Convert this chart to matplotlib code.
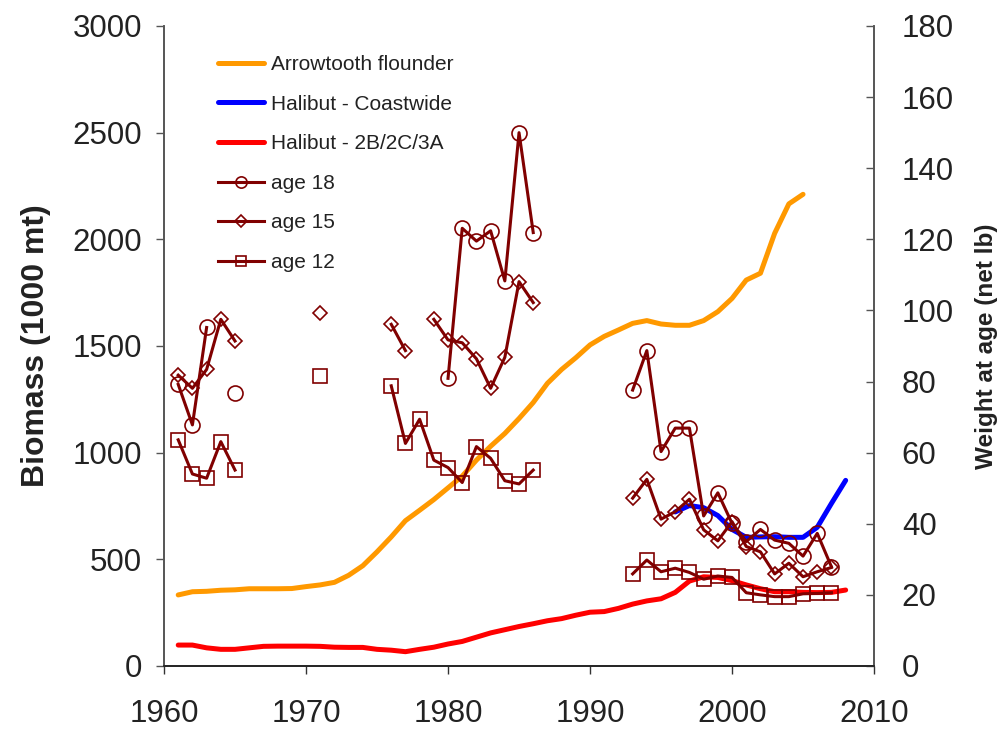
import numpy as np
import matplotlib
matplotlib.use("Agg")
import matplotlib.pyplot as plt

plt.rcParams["font.family"] = ["Liberation Sans", "DejaVu Sans"]

# biomass series (1000 mt), left axis
arrow_years = list(range(1961, 2006))
arrowtooth = [333, 348, 350, 355, 357, 362, 362, 362, 363, 372,
              380, 392, 425, 470, 535, 605, 681, 730, 780, 835,
              890, 965, 1030, 1090, 1160, 1235, 1325, 1390, 1445, 1505,
              1545, 1575, 1606, 1619, 1603, 1597, 1597, 1619, 1661, 1723,
              1809, 1841, 2028, 2166, 2211]

coast_years = list(range(1996, 2009))
coastwide = [722, 752, 742, 705, 640, 603, 605, 606, 603, 603, 650, 762, 870]

red_years = list(range(1961, 2009))
area_2b3a = [98, 98, 85, 78, 78, 85, 92, 93, 93, 93,
             92, 88, 87, 87, 78, 74, 67, 78, 88, 103,
             115, 135, 155, 170, 185, 198, 212, 222, 238, 252,
             255, 270, 290, 305, 315, 345, 398, 418, 415, 400,
             380, 362, 348, 348, 345, 344, 345, 356]

# weight at age (net lb), right axis; None = no data
age_years = list(range(1961, 2008))
age18 = [79.2, 67.8, 95.2, None, 76.9, None, None, None, None, None,
         None, None, None, None, None, None, None, None, None, 80.9,
         123.1, 119.5, 122.4, 108.3, 150.0, 121.9, None, None, None, None,
         None, None, 77.6, 88.7, 60.3, 66.9, 66.9, 42.2, 48.7, 40.1,
         35.0, 38.4, 35.4, 34.5, 30.9, 37.3, 27.9]
age15 = [81.8, 78.1, 83.4, 97.5, 91.4, None, None, None, None, None,
         99.2, None, None, None, None, 96.1, 88.7, None, 97.5, 91.7,
         90.9, 86.4, 78.1, 86.8, 108.1, 102.2, None, None, None, None,
         None, None, 47.2, 52.5, 41.3, 43.4, 46.9, 38.3, 35.2, 40.6,
         33.6, 32.1, 25.9, 28.9, 25.1, 26.5, 27.7]
age12 = [63.6, 54.0, 52.8, 63.1, 55.1, None, None, None, None, None,
         81.6, None, None, None, None, 78.8, 62.6, 69.4, 57.9, 55.8,
         51.6, 61.7, 58.4, 52.1, 51.2, 55.1, None, None, None, None,
         None, None, 25.9, 29.8, 26.5, 27.5, 26.3, 24.4, 25.3, 24.9,
         20.6, 20.0, 19.5, 19.5, 20.3, 20.4, 20.6]

TXT = "#222222"
DARKRED = "#800000"

fig = plt.figure(figsize=(10.05, 7.32), dpi=100)
ax = fig.add_axes([0.1632, 0.0902, 0.8697 - 0.1632, 0.9645 - 0.0902])
ax2 = ax.twinx()

l1, = ax.plot(arrow_years, arrowtooth, color="#FF9900", lw=3.6,
              solid_capstyle="round", label="Arrowtooth flounder")
l2, = ax.plot(coast_years, coastwide, color="#0000FF", lw=3.6,
              solid_capstyle="round", label="Halibut - Coastwide")
l3, = ax.plot(red_years, area_2b3a, color="#FF0000", lw=3.6,
              solid_capstyle="round", label="Halibut - 2B/2C/3A")

def arr(v):
    return np.array([np.nan if x is None else x for x in v], dtype=float)

common = dict(color=DARKRED, lw=2.2, mfc="none", mec=DARKRED, mew=1.2)
l4, = ax2.plot(age_years, arr(age18), marker="o", ms=10.8, label="age 18", **common)
l5, = ax2.plot(age_years, arr(age15), marker="D", ms=7.6, label="age 15", **common)
l6, = ax2.plot(age_years, arr(age12), marker="s", ms=10.5, label="age 12", **common)

ax.set_xlim(1960, 2010)
ax.set_ylim(0, 3000)
ax2.set_ylim(0, 180)
ax.set_xticks(range(1960, 2011, 10))
ax.set_yticks(range(0, 3001, 500))
ax2.set_yticks(range(0, 181, 20))

for a in (ax, ax2):
    a.spines["top"].set_visible(False)
    a.spines["left"].set_color("#555555")
    a.spines["right"].set_color("#555555")
    a.spines["bottom"].set_color("#222222")
    for s in a.spines.values():
        s.set_linewidth(1.2)

ax.tick_params(axis="x", direction="out", length=6, width=1.0, pad=18,
               labelsize=22.5, colors="#333333", labelcolor=TXT)
ax.tick_params(axis="y", direction="out", length=6, width=1.0, pad=10,
               labelsize=22.5, colors="#555555", labelcolor=TXT)
ax2.tick_params(axis="y", direction="in", length=6, width=1.0, pad=20,
                labelsize=22.5, colors="#555555", labelcolor=TXT)

ax.set_ylabel("Biomass (1000 mt)", fontsize=23, fontweight="bold", color=TXT,
              labelpad=15)
ax2.set_ylabel("Weight at age (net lb)", fontsize=17.5, fontweight="bold",
               color=TXT, labelpad=15)

ax2.legend(handles=[l1, l2, l3, l4, l5, l6], loc="upper left",
           bbox_to_anchor=(218 / 1005, 1 - 55 / 732),
           bbox_transform=fig.transFigure, frameon=False, fontsize=15,
           handlelength=2.2, handletextpad=0.35, labelspacing=0.99,
           markerscale=0.75, borderpad=0, borderaxespad=0,
           labelcolor=TXT)

fig.savefig("out.png", dpi=100)
